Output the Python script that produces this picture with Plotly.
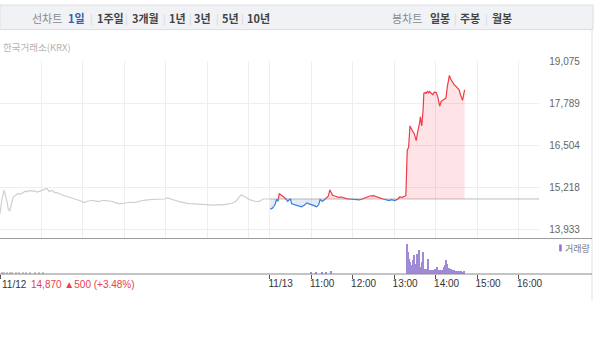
import plotly.graph_objects as go

W, H = 600, 342
BASE = 14870

# ---- data ----
day1_min = [0, 3, 6, 8, 10, 12, 14, 17, 19, 23, 26, 29, 33, 37, 40, 43, 47, 50, 54, 58, 62, 65, 68, 71, 75, 79,
            84, 89, 94, 99, 104, 108, 113, 118, 122, 127, 132, 137, 143, 149, 155, 161, 167, 173, 180, 187, 194,
            201, 208, 216, 224, 232, 238, 242, 247, 253, 259, 266, 273, 281, 288, 295, 302, 309, 316, 323, 330,
            336, 341, 345, 348, 350, 353, 357, 361, 365, 369, 374, 378, 381, 385, 390]
day1_px = [14420, 14900, 15130, 14980, 14800, 14560, 14500, 14760, 14930, 14990, 15040, 15010, 15070, 15110,
           15090, 15130, 15100, 15120, 15080, 15110, 15150, 15170, 15190, 15100, 15130, 15070, 15050, 15000,
           14960, 14930, 14890, 14870, 14840, 14800, 14760, 14800, 14830, 14810, 14790, 14830, 14820, 14800,
           14760, 14720, 14740, 14770, 14760, 14800, 14830, 14850, 14860, 14880, 14870, 14900, 14860, 14830,
           14790, 14760, 14730, 14720, 14710, 14700, 14690, 14680, 14700, 14690, 14720, 14740, 14800, 14900,
           14980, 14990, 14940, 14900, 14850, 14820, 14800, 14790, 14830, 14870, 14870, 14870]

day2_min = [391, 394, 396, 398, 400, 402, 404, 406, 408, 410, 412, 414, 416, 418, 420, 422, 425, 429, 432, 436,
            440, 444, 447, 451, 455, 458, 461, 463, 466, 468, 470, 472, 475, 477, 479, 481, 484, 487, 490, 494,
            497, 501, 505, 508, 511, 515, 520, 525, 530, 535, 540, 545, 549, 554, 559, 563, 566, 569, 571, 575,
            578, 582, 585, 587, 589, 591, 593, 595, 597, 599, 601, 602, 604, 605, 607, 608, 609, 610, 612, 613,
            615, 616, 618, 620, 621, 623, 626, 628, 631, 633, 636, 638, 640, 642, 645, 647, 650, 652, 655, 657,
            659, 661, 664, 666, 669, 671, 672]
day2_px = [14560, 14590, 14640, 14710, 14860, 14800, 15030, 15000, 14980, 14940, 14900, 14860, 14800, 14840,
           14870, 14720, 14700, 14680, 14650, 14630, 14680, 14750, 14720, 14700, 14660, 14630, 14700, 14850,
           14800, 14820, 14860, 14900, 14960, 15150, 15060, 14980, 14960, 14950, 14920, 14930, 14900, 14880,
           14870, 14860, 14850, 14850, 14840, 14880, 14930, 14960, 14970, 14930, 14900, 14870, 14830, 14820,
           14850, 14830, 14820, 14860, 14930, 14920, 14950, 14970, 16350, 16450, 17100, 17000, 16930, 16870,
           16750, 16650, 16900, 16980, 17200, 17380, 17250, 17100, 17600, 18100, 18120, 18080, 18150, 18110,
           18150, 18100, 18050, 18130, 18120, 18000, 17700, 17850, 17880, 17930, 17950, 18300, 18640, 18520,
           18390, 18350, 18320, 18280, 18200, 18050, 17880, 18100, 18200]

vol1_min = [3, 6, 10, 14, 18, 23, 28, 33, 38, 44, 50, 56, 62]
vol1 = [1500, 1000, 2000, 1000, 1500, 1000, 2000, 1000, 1500, 1000, 1000, 1000, 2000]
vol2_min = [450, 458, 466, 472, 479,
            589, 590, 592, 593, 595, 597, 599, 601, 603, 604, 606, 607, 609, 610, 612, 614, 616, 617, 619, 620,
            622, 623, 625, 627, 628, 630, 632, 634, 635, 637, 639, 640, 642, 644, 645, 647, 649, 650, 652, 654,
            655, 657, 659, 661, 662, 664, 666, 667, 669, 671]
vol2 = [1000, 1500, 1000, 2000, 3000,
        30000, 22000, 15000, 12000, 9000, 14000, 19000, 10000, 7000, 20000, 17000, 24000, 7000, 12000, 22000,
        5000, 4000, 5000, 15000, 7000, 3500, 4000, 2500, 4000, 3000, 5000, 7000, 3500, 4000, 4000, 3000, 4000,
        7000, 9000, 14000, 10000, 6000, 5000, 5000, 3000, 3500, 4000, 3000, 2500, 3000, 2500, 3000, 3000, 2000,
        3000]

y_ticks = [13933, 15218, 16504, 17789, 19075]
x_grid = [60, 120, 180, 240, 300, 360, 390, 450, 510, 570, 630, 690, 750]
x_ticks = [0, 390, 450, 510, 570, 630, 690, 750]
x_ticktext = ["", "11/13", "11:00", "12:00", "13:00", "14:00", "15:00", "16:00"]
first_label = "11/12"
info_label = "14,870 ▲500 (+3.48%)"

RED, BLUE, GRAY = "#ee3b46", "#3b7dd8", "#cfcfcf"

# ---- split day2 into above/below baseline with crossing points ----
xs, ys = [], []
for i in range(len(day2_min)):
    if i > 0:
        a, b = day2_px[i - 1] - BASE, day2_px[i] - BASE
        if a * b < 0:
            t = a / (a - b)
            xs.append(day2_min[i - 1] + t * (day2_min[i] - day2_min[i - 1]))
            ys.append(BASE)
    xs.append(day2_min[i])
    ys.append(day2_px[i])

up = [y if y >= BASE else None for y in ys]
dn = [y if y <= BASE else None for y in ys]
up_f = [max(y, BASE) for y in ys]
dn_f = [min(y, BASE) for y in ys]

fig = go.Figure()
fig.add_trace(go.Scatter(x=[390, 780], y=[BASE, BASE], mode="lines", line=dict(color="#bdbdbd", width=1),
                         hoverinfo="skip"))
fig.add_trace(go.Scatter(x=xs, y=[BASE] * len(xs), mode="lines", line=dict(width=0), hoverinfo="skip"))
fig.add_trace(go.Scatter(x=xs, y=up_f, mode="lines", line=dict(width=0), fill="tonexty",
                         fillcolor="rgba(250,90,100,0.16)", hoverinfo="skip"))
fig.add_trace(go.Scatter(x=xs, y=[BASE] * len(xs), mode="lines", line=dict(width=0), hoverinfo="skip"))
fig.add_trace(go.Scatter(x=xs, y=dn_f, mode="lines", line=dict(width=0), fill="tonexty",
                         fillcolor="rgba(70,130,220,0.16)", hoverinfo="skip"))
fig.add_trace(go.Scatter(x=day1_min, y=day1_px, mode="lines", line=dict(color=GRAY, width=1.2)))
fig.add_trace(go.Scatter(x=xs, y=up, mode="lines", line=dict(color=RED, width=1.2), connectgaps=False))
fig.add_trace(go.Scatter(x=xs, y=dn, mode="lines", line=dict(color=BLUE, width=1.2), connectgaps=False))
fig.add_trace(go.Bar(x=vol1_min, y=vol1, width=1.4, marker=dict(color="#c8c8c8", line=dict(width=0)),
                     xaxis="x2", yaxis="y2"))
fig.add_trace(go.Bar(x=vol2_min, y=vol2, width=2.0, marker=dict(color="#a089d6", line=dict(width=0)),
                     xaxis="x2", yaxis="y2"))


def py(p):
    return 1 - p / H


XD = [0, 542 / W]
FONT = "Liberation Sans, Arial, Noto Sans CJK KR"
KFONT = "Noto Sans CJK KR, Liberation Sans"

fig.update_layout(
    width=W, height=H, margin=dict(l=0, r=0, t=0, b=0),
    paper_bgcolor="white", plot_bgcolor="white", showlegend=False, bargap=0,
    font=dict(family=FONT, size=10, color="#555"),
    xaxis=dict(domain=XD, range=[0, 780], anchor="y", tickvals=x_grid, showticklabels=False,
               showgrid=True, gridcolor="#eeeeee", gridwidth=1, zeroline=False, showline=False, ticks=""),
    yaxis=dict(domain=[py(237), py(57)], range=[13663, 19075], side="right", anchor="x",
               tickvals=y_ticks, ticktext=[f"{v:,}" for v in y_ticks], showgrid=True, gridcolor="#eeeeee",
               zeroline=False, showline=False, ticks="outside", ticklen=7, tickcolor="rgba(0,0,0,0)",
               tickfont=dict(size=10, color="#666")),
    xaxis2=dict(domain=XD, range=[0, 780], anchor="y2", tickvals=x_ticks, ticktext=x_ticktext,
                showgrid=False, zeroline=False, showline=False, ticks="outside", ticklen=4,
                tickcolor="#555", tickwidth=1, ticklabelshift=11, ticklabelstandoff=-4,
                tickfont=dict(size=10, color="#333")),
    yaxis2=dict(domain=[py(273), py(240)], range=[0, 33000], anchor="x2", showgrid=False, zeroline=False,
                showticklabels=False, showline=False),
)

shapes = [
    dict(type="rect", xref="paper", yref="paper", x0=0, x1=596 / W, y0=py(25), y1=py(0),
         fillcolor="#f1f2f5", line=dict(color="#dcdde0", width=1), layer="below"),
    dict(type="line", xref="paper", yref="paper", x0=595 / W, x1=595 / W, y0=py(300), y1=py(25),
         line=dict(color="#e3e3e3", width=1)),
    dict(type="line", xref="paper", yref="paper", x0=0, x1=595 / W, y0=py(237), y1=py(237),
         line=dict(color="#999999", width=1)),
    dict(type="line", xref="paper", yref="paper", x0=0, x1=595 / W, y0=py(273), y1=py(273),
         line=dict(color="#888888", width=1)),
    dict(type="rect", xref="paper", yref="paper", x0=562 / W, x1=564.5 / W, y0=py(250), y1=py(243),
         fillcolor="#8f73c8", line=dict(width=0)),
]
fig.update_layout(shapes=shapes)

ann = []


def txt(x, y, s, color="#333", size=11, family=KFONT, anchor="left"):
    ann.append(dict(x=x / W, y=py(y), xref="paper", yref="paper", text=s, showarrow=False,
                    xanchor=anchor, yanchor="middle", font=dict(size=size, color=color, family=family)))


hy = 13
txt(30, hy, "선차트", "#8a8a8a", 11)
txt(66, hy, "<b>1일</b>", "#3a5eb0", 11)
items = [(95, "1주일"), (131, "3개월"), (168, "1년"), (193, "3년"), (221, "5년"), (246, "10년")]
for x, s in items:
    txt(x, hy, f"<b>{s}</b>", "#444", 11)
for x in [88, 124, 162, 188, 215, 240]:
    txt(x, hy, "|", "#d5d5d5", 10)
txt(392, hy, "봉차트", "#8a8a8a", 11)
for x, s in [(430, "일봉"), (460, "주봉"), (492, "월봉")]:
    txt(x, hy, f"<b>{s}</b>", "#444", 11)
for x in [454, 485]:
    txt(x, hy, "|", "#d5d5d5", 10)

txt(1, 43, "한국거래소(KRX)", "#b3b3b3", 9.5)
txt(566, 247, "거래량", "#777", 9)
txt(0, 284, first_label, "#333", 10, FONT)
txt(29, 284, info_label, "#e8414b", 10, FONT)

fig.update_layout(annotations=ann)

fig.write_html("out.html")
